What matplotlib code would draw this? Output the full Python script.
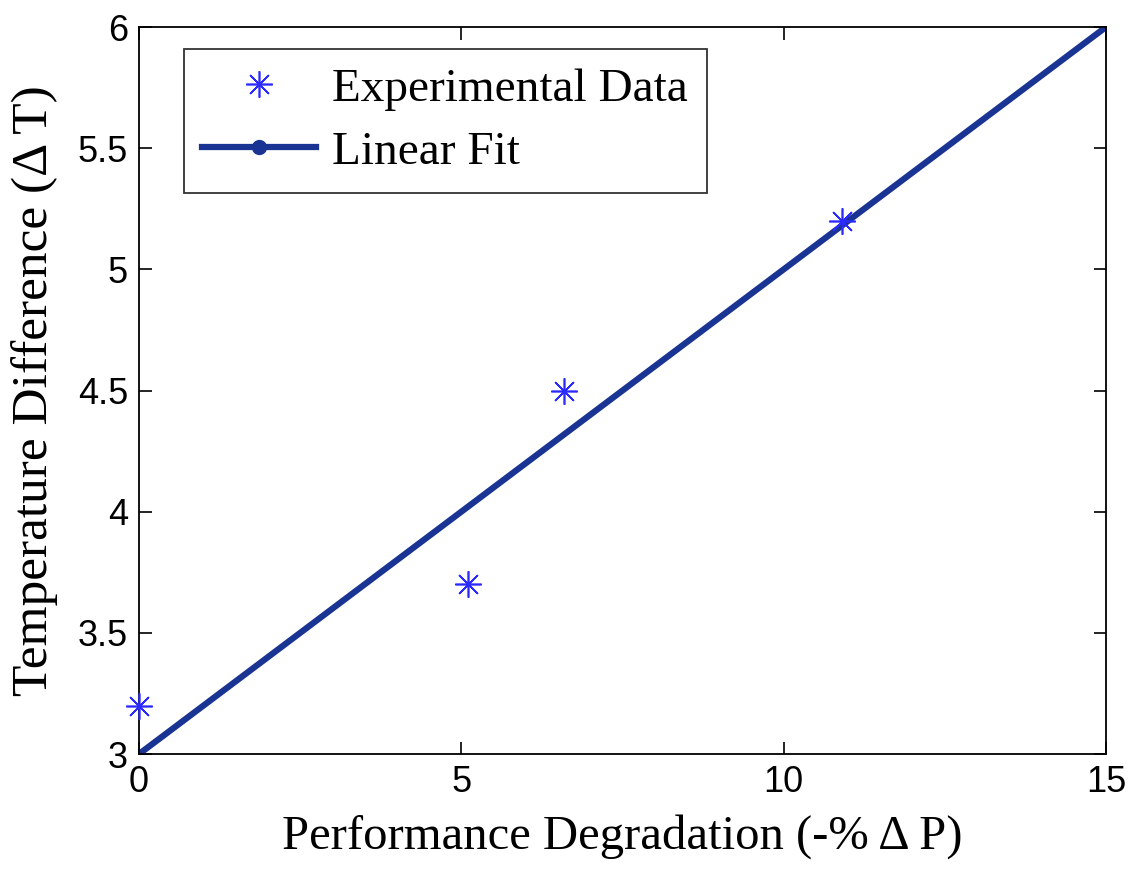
import matplotlib
matplotlib.use("Agg")
import matplotlib.pyplot as plt
from matplotlib.lines import Line2D

exp_x = [0.0, 5.1, 6.6, 10.9]
exp_y = [3.2, 3.7, 4.5, 5.2]
fit_x = [0, 1, 2, 3, 4, 5, 6, 7, 8, 9, 10, 11, 12, 13, 14, 15]
fit_y = [3.0, 3.2, 3.4, 3.6, 3.8, 4.0, 4.2, 4.4, 4.6, 4.8, 5.0, 5.2, 5.4, 5.6, 5.8, 6.0]
xticks = [0, 5, 10, 15]
yticks = [3, 3.5, 4, 4.5, 5, 5.5, 6]
ytick_labels = ["3", "3.5", "4", "4.5", "5", "5.5", "6"]

plt.rcParams['font.family'] = ['Liberation Serif', 'DejaVu Serif']

fig = plt.figure(figsize=(11.34, 8.72), dpi=100)
ax = fig.add_axes([0.1226, 0.1353, 0.8527, 0.8337])

line_color = '#1a3494'
mark_color = '#2b2bff'

ax.plot(fit_x, fit_y, color=line_color, lw=4.5, solid_capstyle='round', zorder=2)
ax.plot(exp_x, exp_y, linestyle='none', marker=(8, 2, 0), markersize=19,
        markeredgewidth=1.2, color=mark_color, zorder=3, clip_on=False)

ax.set_xlim(0, 15)
ax.set_ylim(3, 6)
ax.set_xticks(xticks)
ax.set_yticks(yticks)
ax.set_yticklabels(ytick_labels)
ax.tick_params(direction='in', length=9, width=1.2, top=True, right=True,
               labelsize=26, pad=8)
for lab in ax.get_xticklabels() + ax.get_yticklabels():
    lab.set_fontfamily(['Liberation Sans', 'DejaVu Sans'])
for s in ax.spines.values():
    s.set_linewidth(1.3)

ax.set_xlabel('Performance Degradation (-% \u0394 P)', fontsize=35, labelpad=10)
ax.set_ylabel('Temperature Difference (\u0394 T)', fontsize=37, labelpad=14)

handles = [
    Line2D([], [], linestyle='none', marker=(8, 2, 0), markersize=19,
           markeredgewidth=1.2, color=mark_color),
    Line2D([], [], color=line_color, lw=4.5, marker='o', markersize=10),
]
leg = ax.legend(handles, ['Experimental Data', 'Linear Fit'], loc='upper left',
                bbox_to_anchor=(0.046, 0.97), fontsize=34, frameon=True,
                fancybox=False, edgecolor='black', handlelength=2.4,
                borderpad=0.4, labelspacing=0.42, handletextpad=0.35,
                borderaxespad=0)
leg.get_frame().set_linewidth(1.3)

fig.savefig('out.png', dpi=100, facecolor='white')
